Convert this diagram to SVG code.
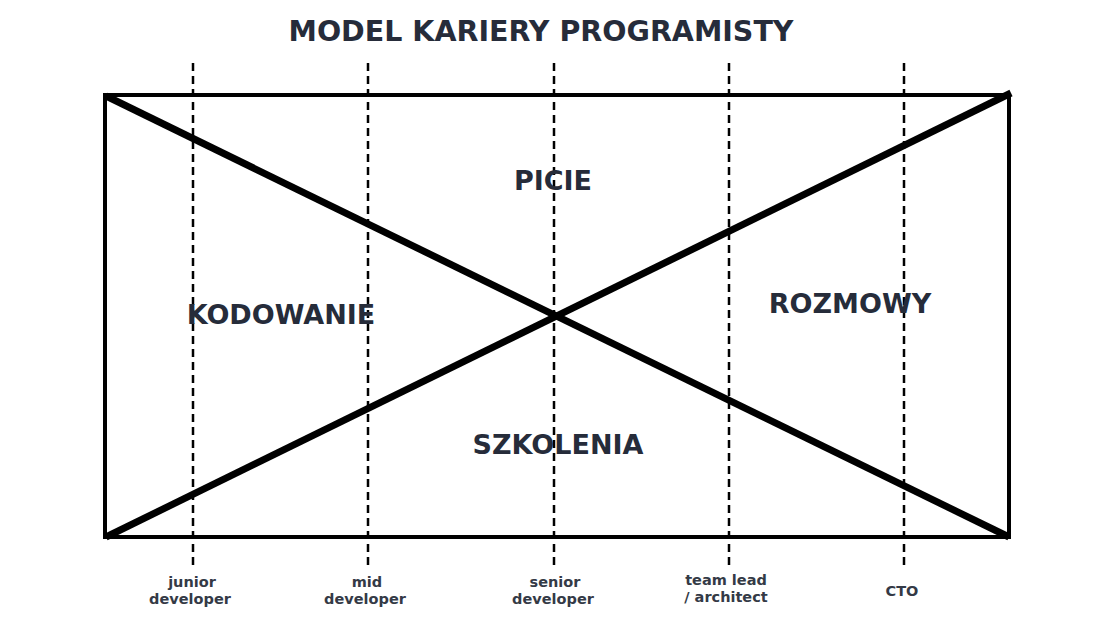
<svg xmlns="http://www.w3.org/2000/svg" width="1118" height="629" viewBox="0 0 1118 629">
  <style>
    text { font-family: "DejaVu Sans", "Verdana", sans-serif; font-weight: bold; fill: #262c3a; text-anchor: middle; }
    .title { font-size: 28.5px; }
    .area { font-size: 27px; }
    .level { font-size: 14.5px; fill: #343a46; }
    .frame { fill: none; stroke: #000; stroke-width: 4; }
    .diag { stroke: #000; stroke-width: 7; stroke-linecap: butt; }
    .stage { stroke: #000; stroke-width: 2.5; stroke-dasharray: 8 5; }
  </style>
  <rect width="1118" height="629" fill="#fff"/>

  <g id="title">
    <text class="title" x="541" y="41">MODEL KARIERY PROGRAMISTY</text>
  </g>

  <g id="stages">
    <line class="stage" x1="193" y1="63" x2="193" y2="568"/>
    <line class="stage" x1="368" y1="63" x2="368" y2="568"/>
    <line class="stage" x1="554" y1="63" x2="554" y2="568"/>
    <line class="stage" x1="729" y1="63" x2="729" y2="568"/>
    <line class="stage" x1="904" y1="63" x2="904" y2="568"/>
  </g>

  <g id="connectors">
    <rect class="frame" x="105" y="95" width="904" height="442"/>
    <line class="diag" x1="106" y1="96" x2="1009" y2="537"/>
    <line class="diag" x1="106" y1="537" x2="1011" y2="93"/>
  </g>

  <g id="picie"><text class="area" x="553" y="190">PICIE</text></g>
  <g id="kodowanie"><text class="area" x="281" y="324">KODOWANIE</text></g>
  <g id="rozmowy"><text class="area" x="850" y="313">ROZMOWY</text></g>
  <g id="szkolenia"><text class="area" x="558" y="454">SZKOLENIA</text></g>

  <g id="junior"><text class="level" x="192" y="587">junior</text><text class="level" x="190" y="604">developer</text></g>
  <g id="mid"><text class="level" x="367" y="587">mid</text><text class="level" x="365" y="604">developer</text></g>
  <g id="senior"><text class="level" x="555" y="587">senior</text><text class="level" x="553" y="604">developer</text></g>
  <g id="teamlead"><text class="level" x="726" y="585">team lead</text><text class="level" x="726" y="602">/ architect</text></g>
  <g id="cto"><text class="level" x="902" y="596">CTO</text></g>
</svg>
